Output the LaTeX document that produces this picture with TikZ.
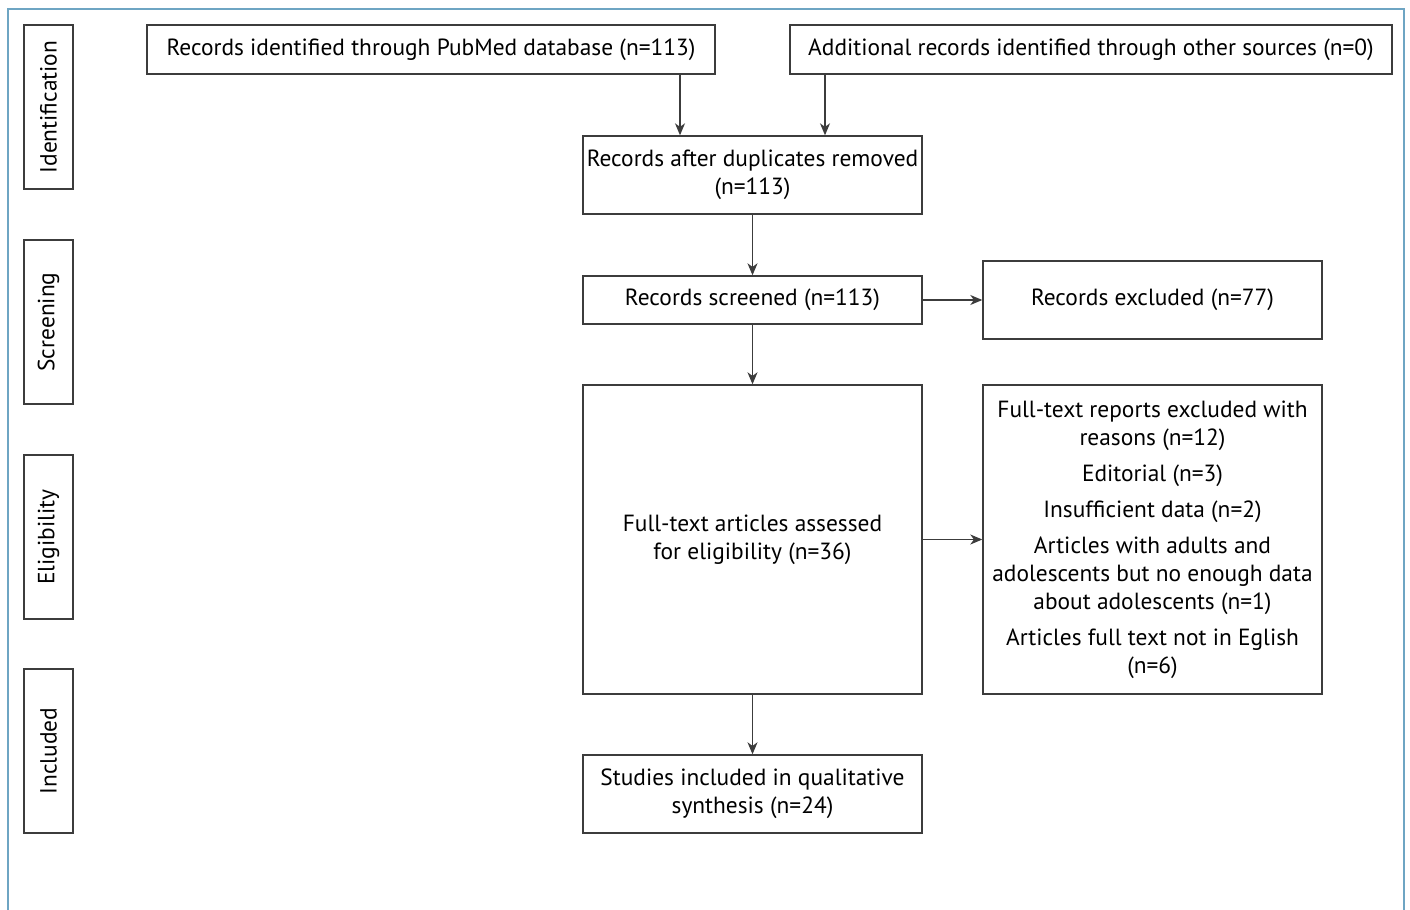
\documentclass[tikz,border=0pt]{standalone}
\usepackage{fontspec}
\setmainfont{PT Sans}
\usepackage{tikz}
\usetikzlibrary{arrows.meta,positioning}
\usepackage{xcolor}
\definecolor{frameblue}{RGB}{110,165,195}
\definecolor{boxline}{RGB}{60,60,60}

\begin{document}
\begin{tikzpicture}[x=0.5pt,y=-0.5pt,
  box/.style={draw=boxline,line width=0.7pt,align=center,inner xsep=0pt,inner ysep=2pt,font=\fontsize{11.7}{14}\selectfont},
  phase/.style={box,rotate=90,minimum width=82pt,minimum height=24.5pt},
  flow/.style={-{Stealth[length=6pt,width=5pt,inset=1.8pt]},line width=0.6pt,draw=boxline}]
\useasboundingbox (0,0) rectangle (1410,910);
\draw[frameblue,line width=0.9pt] (8,910) -- (8,9) -- (1404,9) -- (1404,910);
% phase labels
\node[phase] (ident) at (48.5,107) {Identification};
\node[phase] (screen) at (48.5,322) {Screening};
\node[phase] (elig) at (48.5,537) {Eligibility};
\node[phase] (incl) at (48.5,751) {Included};
% boxes
\node[box,minimum width=284pt,minimum height=24.5pt] (pubmed) at (431,49.5) {Records identified through PubMed database (n=113)};
\node[box,minimum width=301pt,minimum height=24.5pt] (other) at (1091,49.5) {Additional records identified through other sources (n=0)};
\node[box,minimum width=169.5pt,minimum height=39pt] (dupl) at (752.5,175) {Records after duplicates removed\\(n=113)};
\node[box,minimum width=169.5pt,minimum height=24pt] (screened) at (752.5,300) {Records screened (n=113)};
\node[box,minimum width=169.5pt,minimum height=39pt] (excl) at (1152.5,300) {Records excluded (n=77)};
\node[box,minimum width=169.5pt,minimum height=154.5pt] (fulltext) at (752.5,539.5) {Full-text articles assessed\\for eligibility (n=36)};
\node[box,minimum width=169.5pt,minimum height=154.5pt] (reasons) at (1152.5,539.5) {Full-text reports excluded with\\reasons (n=12)\\[4pt]
  Editorial (n=3)\\[4pt]
  Insufficient data (n=2)\\[4pt]
  Articles with adults and\\adolescents but no enough data\\about adolescents (n=1)\\[4pt]
  Articles full text not in Eglish\\(n=6)};
\node[box,minimum width=169.5pt,minimum height=39pt] (studies) at (752.5,794) {Studies included in qualitative\\synthesis (n=24)};
% arrows
\draw[flow] (pubmed.south -| 680,0) -- (dupl.north -| 680,0);
\draw[flow] (other.south -| 825,0) -- (dupl.north -| 825,0);
\draw[flow] (dupl) -- (screened);
\draw[flow] (screened) -- (excl);
\draw[flow] (screened) -- (fulltext);
\draw[flow] (fulltext) -- (reasons);
\draw[flow] (fulltext) -- (studies);
\end{tikzpicture}
\end{document}
